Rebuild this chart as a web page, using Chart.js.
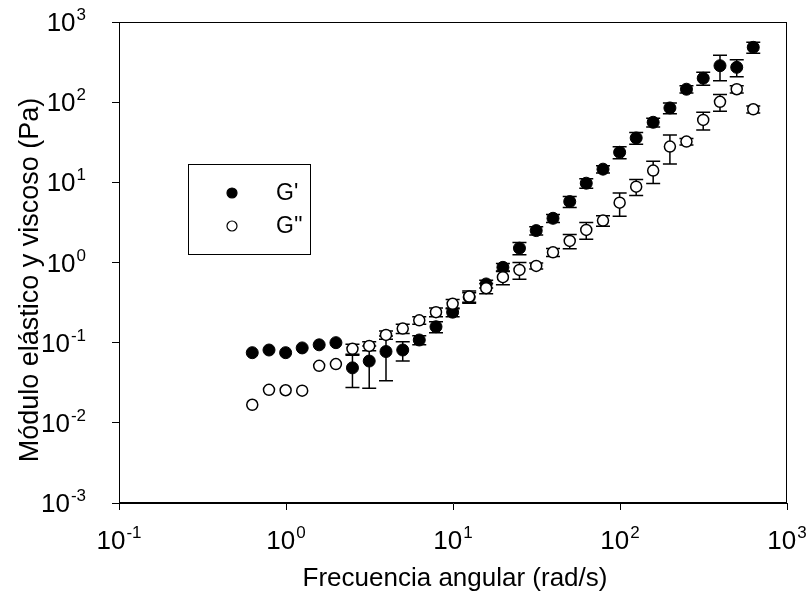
<!DOCTYPE html>
<html>
<head>
<meta charset="utf-8">
<script src="https://cdn.jsdelivr.net/npm/chart.js@4.4.0/dist/chart.umd.min.js"></script>
<style>
  html, body { margin: 0; padding: 0; background: #fff; }
  #wrap { width: 811px; height: 604px; }
</style>
</head>
<body>
<div id="wrap"><canvas id="rheoChart" width="811" height="604"></canvas></div>
<script>
// angular frequency sweep (rad/s)
const freq = [0.628, 0.791, 0.995, 1.25, 1.58, 1.99, 2.5, 3.15, 3.97, 5.0,
  6.28, 7.91, 9.95, 12.5, 15.8, 19.9, 25.0, 31.5, 39.7, 50.0,
  62.8, 79.1, 99.5, 125, 158, 199, 250, 315, 397, 500, 628];

// G' (elastic) and its SD
const gPrime = [0.075, 0.081, 0.075, 0.086, 0.094, 0.1, 0.0485, 0.059, 0.0775, 0.081,
  0.108, 0.158, 0.24, 0.37, 0.54, 0.87, 1.51, 2.5, 3.56, 5.75,
  9.75, 14.6, 23.7, 35.8, 56.1, 84.7, 145, 199, 285, 272, 483];
const gPrimeSd = [0, 0, 0, 0, 0, 0, 0.021, 0.032, 0.044, 0.022,
  0.014, 0.025, 0.03, 0.05, 0.06, 0.1, 0.26, 0.3, 0.4, 0.9,
  1.3, 1.5, 4, 6, 7, 13, 15, 37, 100, 65, 75];

// G'' (viscous) and its SD
const gDouble = [0.0168, 0.0258, 0.0255, 0.0252, 0.0514, 0.054, 0.0837, 0.091, 0.125, 0.15,
  0.19, 0.24, 0.305, 0.376, 0.478, 0.656, 0.809, 0.907, 1.34, 1.86,
  2.55, 3.33, 5.58, 8.84, 14.0, 27.9, 32.2, 60, 101, 145, 81.5];
const gDoubleSd = [0, 0, 0, 0, 0, 0, 0.012, 0.012, 0.015, 0.02,
  0.02, 0.03, 0.04, 0.065, 0.07, 0.13, 0.19, 0.08, 0.15, 0.38,
  0.6, 0.5, 1.8, 2, 4.3, 11, 3, 15, 24, 15, 8];

const xExponents = [-1, 0, 1, 2, 3];
const yExponents = [-3, -2, -1, 0, 1, 2, 3];
const seriesNames = ["G'", "G''"];

const FONT = "'Liberation Sans', Arial, sans-serif";

function toPoints(ys) {
  return freq.map((f, i) => ({ x: f, y: ys[i] }));
}

// error bars, drawn under the markers
const errorBars = {
  id: 'errorBars',
  beforeDatasetsDraw(chart) {
    const ctx = chart.ctx;
    const xs = chart.scales.x, ys = chart.scales.y;
    const sets = [[gPrime, gPrimeSd], [gDouble, gDoubleSd]];
    ctx.save();
    ctx.strokeStyle = '#000';
    ctx.lineWidth = 1.5;
    sets.forEach(([vals, sds]) => {
      vals.forEach((v, i) => {
        if (!sds[i]) return;
        const px = xs.getPixelForValue(freq[i]);
        const hi = ys.getPixelForValue(v + sds[i]);
        const lo = ys.getPixelForValue(Math.max(v - sds[i], 1e-4));
        ctx.beginPath();
        ctx.moveTo(px, hi); ctx.lineTo(px, lo);
        ctx.moveTo(px - 7, hi); ctx.lineTo(px + 7, hi);
        ctx.moveTo(px - 7, lo); ctx.lineTo(px + 7, lo);
        ctx.stroke();
      });
    });
    ctx.restore();
  }
};

function drawPow(ctx, exp, x, y, align, big, small) {
  ctx.font = big + 'px ' + FONT;
  const wBase = ctx.measureText('10').width;
  ctx.font = small + 'px ' + FONT;
  const expTxt = String(exp);
  const wExp = ctx.measureText(expTxt).width;
  const total = wBase + wExp + 1;
  let start = x;
  if (align === 'center') start = x - total / 2;
  if (align === 'right') start = x - total;
  ctx.textAlign = 'left';
  ctx.textBaseline = 'alphabetic';
  ctx.font = big + 'px ' + FONT;
  ctx.fillText('10', start, y);
  ctx.font = small + 'px ' + FONT;
  ctx.fillText(expTxt, start + wBase + 1, y - big * 0.42);
}

const decorations = {
  id: 'decorations',
  afterDraw(chart) {
    const ctx = chart.ctx;
    const a = chart.chartArea;
    const xs = chart.scales.x, ys = chart.scales.y;
    ctx.save();
    ctx.fillStyle = '#000';
    ctx.strokeStyle = '#000';
    ctx.lineWidth = 1;
    ctx.strokeRect(a.left + 0.5, a.top + 0.5, a.right - a.left - 1, a.bottom - a.top - 1);

    xExponents.forEach(e => {
      drawPow(ctx, e, xs.getPixelForValue(Math.pow(10, e)), a.bottom + 46, 'center', 26, 17);
    });
    yExponents.forEach(e => {
      drawPow(ctx, e, 86, ys.getPixelForValue(Math.pow(10, e)) + 9, 'right', 26, 17);
    });

    // axis titles
    ctx.font = '26px ' + FONT;
    ctx.textAlign = 'center';
    ctx.textBaseline = 'middle';
    ctx.fillText('Frecuencia angular (rad/s)', 455, 579);
    ctx.save();
    ctx.translate(31, 280);
    ctx.rotate(-Math.PI / 2);
    ctx.font = '27px ' + FONT;
    ctx.fillText('Módulo elástico y viscoso (Pa)', 0, 0);
    ctx.restore();

    // legend box
    ctx.strokeRect(188.5, 164.5, 122, 90);
    const styles = chart.data.datasets;
    [193, 226].forEach((ly, k) => {
      ctx.beginPath();
      ctx.arc(232, ly, 5, 0, Math.PI * 2);
      ctx.fillStyle = styles[k].backgroundColor;
      ctx.fill();
      ctx.lineWidth = 1.2;
      ctx.strokeStyle = '#000';
      ctx.stroke();
      ctx.fillStyle = '#000';
      ctx.font = '23px ' + FONT;
      ctx.textAlign = 'left';
      ctx.textBaseline = 'middle';
      ctx.fillText(seriesNames[k], 276, ly + 1);
    });
    ctx.restore();
  }
};

const tickOnly = {
  display: true,
  drawOnChartArea: false,
  drawTicks: true,
  tickLength: 7,
  color: '#000',
  lineWidth: 1
};

new Chart(document.getElementById('rheoChart'), {
  type: 'scatter',
  data: {
    datasets: [
      {
        label: seriesNames[0],
        data: toPoints(gPrime),
        backgroundColor: '#000',
        borderColor: '#000',
        borderWidth: 1,
        pointRadius: 6,
        pointHoverRadius: 6,
        order: 1
      },
      {
        label: seriesNames[1],
        data: toPoints(gDouble),
        backgroundColor: '#fff',
        borderColor: '#000',
        borderWidth: 1.5,
        pointRadius: 5.5,
        pointHoverRadius: 5.5,
        order: 0
      }
    ]
  },
  options: {
    responsive: false,
    animation: false,
    events: [],
    layout: { padding: { top: 22, right: 24, left: 0, bottom: 0 } },
    plugins: {
      legend: { display: false },
      tooltip: { enabled: false }
    },
    scales: {
      x: {
        type: 'logarithmic',
        min: 0.1,
        max: 1000,
        afterBuildTicks: s => { s.ticks = xExponents.map(e => ({ value: Math.pow(10, e) })); },
        afterFit: s => { s.height = 101; },
        ticks: { display: false },
        grid: tickOnly,
        border: { display: true, color: '#000', width: 1 }
      },
      y: {
        type: 'logarithmic',
        min: 0.001,
        max: 1000,
        afterBuildTicks: s => { s.ticks = yExponents.map(e => ({ value: Math.pow(10, e) })); },
        afterFit: s => { s.width = 119; },
        ticks: { display: false },
        grid: tickOnly,
        border: { display: true, color: '#000', width: 1 }
      }
    }
  },
  plugins: [errorBars, decorations]
});
</script>
</body>
</html>
